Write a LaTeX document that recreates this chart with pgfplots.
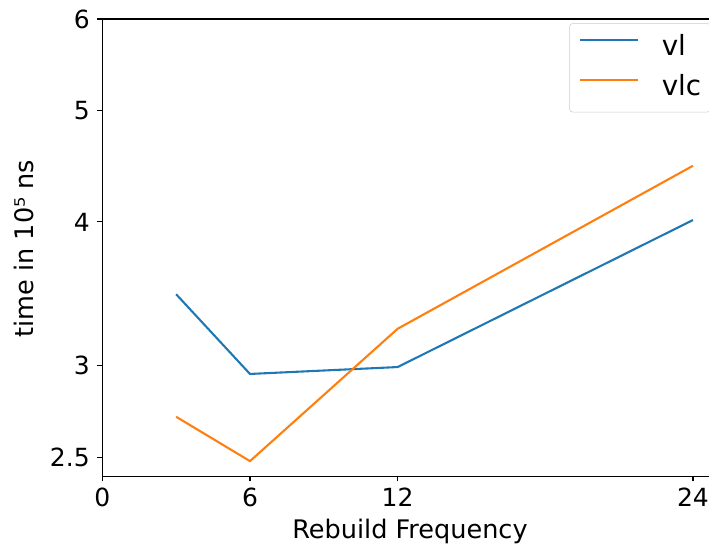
\documentclass[border=0pt]{standalone}
\usepackage{pgfplots}
\pgfplotsset{compat=1.18}
\usepackage{fontspec}
\setmainfont{DejaVu Sans}
\definecolor{tabblue}{HTML}{1F77B4}
\definecolor{taborange}{HTML}{FF7F0E}
\begin{document}
\begin{tikzpicture}
\useasboundingbox (0,0) rectangle (510.48pt,393.84pt);
\clip (0,0) rectangle (510.48pt,393.84pt);
\begin{axis}[
  at={(73.66pt,50.76pt)}, anchor=south west,
  scale only axis, width=443.9pt, height=329.4pt,
  xmin=0, xmax=25.05,
  ymode=log, ymin=2.405, ymax=6,
  xtick={0,6,12,24}, xticklabels={0,6,12,24},
  ytick={2.5,3,4,5,6}, yticklabels={2.5,3,4,5,6},
  minor ytick={}, yminorticks=false,
  tick pos=left, tick align=outside,
  major tick length=3.5pt,
  every tick/.style={black, line width=0.8pt},
  axis line style={line width=0.8pt},
  /pgf/number format/assume math mode=true,
  tick label style={font=\fontsize{18}{21.6}\selectfont, inner sep=0pt},
  xticklabel style={anchor=north, yshift=-4.78pt},
  yticklabel style={anchor=east, xshift=-5.36pt},
  label style={font=\fontsize{18.4}{22}\selectfont},
  xlabel={Rebuild Frequency},
  ylabel={time in 10⁵ ns},
  xlabel style={at={(axis description cs:0.499,-0.135)}, anchor=base, inner sep=0pt},
  ylabel style={at={(axis description cs:-0.1119,0.498)}, anchor=base, inner sep=0pt},
  legend style={at={(axis description cs:0.9865,0.9906)}, anchor=north east,
    font=\fontsize{20}{24}\selectfont,
    draw=black!20, rounded corners=2pt, fill=white, fill opacity=0.8, text opacity=1,
    inner xsep=6.5pt, inner ysep=7.7pt, row sep=9.3pt,
    nodes={inner sep=0pt, text height=15.2pt, text depth=4.3pt},
    /tikz/every odd column/.style={column sep=16.3pt},
    /tikz/every even column/.style={column sep=0pt}},
  legend image code/.code={\draw[#1] (0pt,5.5pt) -- (42pt,5.5pt);},
  legend cell align=left,
]
\addplot[color=tabblue, line width=1.5pt] coordinates {(3,3.462) (6,2.952) (12,2.993) (24,4.015)};
\addlegendentry{vl}
\addplot[color=taborange, line width=1.5pt] coordinates {(3,2.710) (6,2.480) (12,3.231) (24,4.475)};
\addlegendentry{vlc}
\end{axis}
\end{tikzpicture}
\end{document}
